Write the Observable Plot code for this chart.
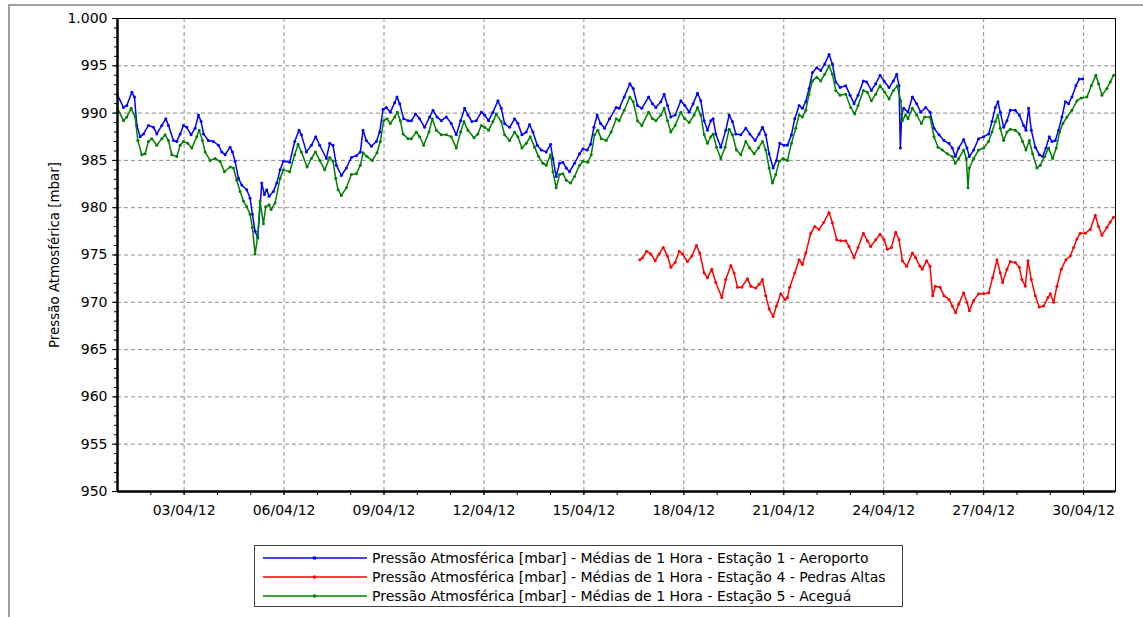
<!DOCTYPE html>
<html><head><meta charset="utf-8">
<script src="https://cdn.jsdelivr.net/npm/d3@7"></script>
<script src="https://cdn.jsdelivr.net/npm/@observablehq/plot@0.6"></script>
<style>
body{margin:0;background:#fff;font-family:"DejaVu Sans",sans-serif;}
#wrap{position:relative;width:1143px;height:617px;overflow:hidden;background:#fff;}
#frame{position:absolute;left:8px;top:4px;width:1200px;height:700px;border-left:2px solid #a0a0a0;border-top:2px solid #a0a0a0;}
#chart{position:absolute;left:0;top:0;}
#legend{position:absolute;left:254px;top:545px;width:649px;height:62px;border:1px solid #404040;box-sizing:border-box;font-size:14px;color:#000;}
#legend .row{position:absolute;left:8px;height:19px;display:flex;align-items:center;white-space:nowrap;}
#legend svg{margin-right:4px;}
</style></head>
<body>
<div id="wrap"><div id="frame"></div><div id="chart"></div><div id="legend"></div></div>
<script>
// time values: days since 01/04/2012 00:00 ; pressures in mbar
const blueDay = [0.00,0.18,0.28,0.43,0.51,0.58,0.68,0.78,0.93,1.08,1.18,1.33,1.45,1.53,1.68,1.78,1.88,1.98,2.08,2.21,2.33,2.43,2.51,2.58,2.73,2.88,3.03,3.13,3.23,3.38,3.45,3.53,3.63,3.73,3.88,3.98,4.05,4.13,4.21,4.33,4.41,4.48,4.55,4.68,4.78,4.88,4.98,
5.17,5.32,5.45,5.52,5.67,5.82,5.95,6.07,6.27,6.37,6.47,6.57,6.72,6.87,7.02,7.17,7.29,7.37,7.47,7.62,7.77,7.87,7.97,8.07,8.19,8.32,8.39,8.47,8.59,8.72,8.82,8.95,9.07,9.22,9.37,9.47,9.59,9.72,9.87,
10.02,10.17,10.30,10.42,10.52,10.64,10.77,10.92,11.02,11.14,11.27,11.42,11.52,11.62,11.77,11.92,12.02,12.14,12.27,12.37,12.47,12.60,12.72,12.87,13.00,13.07,13.17,13.27,13.37,13.47,13.57,13.72,13.87,13.97,14.10,14.20,14.30,14.40,14.50,14.62,14.77,14.97,
15.06,15.21,15.38,15.48,15.61,15.74,15.94,16.06,16.16,16.31,16.41,16.51,16.61,16.74,16.91,17.03,17.16,17.28,17.41,17.51,17.61,17.71,17.81,17.88,17.96,18.11,18.26,18.36,18.46,18.56,18.71,18.86,18.98,19.14,19.26,19.36,19.46,19.56,19.68,19.78,19.88,20.01,
20.11,20.23,20.33,20.46,20.56,20.66,20.76,20.86,20.99,21.11,21.23,21.36,21.46,21.56,21.69,21.86,21.99,22.11,22.23,22.39,22.49,22.63,22.76,22.89,23.01,23.16,23.29,23.39,23.46,23.50,23.54,23.60,23.73,23.86,23.99,24.11,24.26,24.39,24.51,24.66,24.81,24.96,25.06,
25.15,25.25,25.40,25.50,25.57,25.70,25.85,26.00,26.15,26.25,26.35,26.43,26.50,26.60,26.70,26.80,26.95,27.07,27.20,27.27,27.35,27.43,27.55,27.67,27.77,27.87,27.97,28.05,28.15,28.25,28.35,28.45,28.55,28.65,28.77,28.87,28.97];
const bluePres = [991.9,990.6,990.8,992.2,991.7,988.7,987.5,987.8,988.7,988.5,987.8,988.7,989.4,988.7,987.1,987.0,987.8,988.7,988.5,987.7,988.4,989.8,989.1,987.8,987.1,987.0,986.6,985.9,985.6,986.4,985.9,984.9,983.1,982.4,981.9,981.0,979.3,977.5,976.8,982.6,981.4,981.9,981.2,981.7,982.6,984.0,984.9,
984.8,987.0,988.2,987.7,985.9,986.6,987.5,986.6,985.2,986.8,986.6,984.5,983.4,984.2,985.3,985.5,985.9,988.2,987.1,986.5,987.0,988.0,990.4,990.6,990.1,991.1,991.7,991.0,989.4,989.2,989.2,989.9,989.4,988.5,989.6,990.3,989.6,989.2,989.6,
988.9,987.7,989.2,990.5,989.8,989.1,989.2,990.1,989.8,989.2,990.1,991.3,990.5,988.9,988.5,989.4,988.9,987.7,988.0,988.8,988.0,986.6,986.1,985.9,986.7,985.2,983.3,984.7,984.8,984.2,983.8,984.7,985.7,986.2,986.1,986.7,988.5,989.8,988.9,988.4,989.4,990.6,
990.5,991.7,993.1,992.6,990.8,990.5,991.7,991.0,990.6,991.2,992.0,990.8,989.6,989.8,991.3,990.8,990.1,991.0,992.1,991.3,989.2,988.2,989.2,989.4,987.8,986.4,988.2,989.8,989.1,987.8,987.7,988.4,987.8,987.1,987.8,988.5,987.7,985.7,984.2,985.0,986.8,986.6,
986.6,987.7,989.4,990.8,990.5,991.2,992.6,994.3,994.8,994.5,995.2,996.2,995.2,993.3,992.7,992.9,991.9,991.0,991.9,993.4,993.3,992.4,993.1,994.0,993.4,992.7,993.4,994.1,992.9,986.3,989.9,990.5,990.1,991.7,991.0,990.1,990.6,990.1,988.4,987.7,987.1,986.8,986.3,
985.4,986.3,987.2,986.3,985.4,986.1,987.3,987.5,987.8,989.1,990.6,991.2,990.1,988.5,989.2,990.3,990.3,989.8,988.7,988.2,990.5,988.2,986.4,985.6,985.4,986.3,987.5,987.0,987.1,988.2,989.6,991.2,991.0,991.7,992.9,993.6,993.6];

const redDay = [15.68,15.76,15.88,16.01,16.14,16.26,16.38,16.51,16.61,16.74,16.86,16.96,17.11,17.24,17.38,17.48,17.61,17.71,17.84,17.96,18.14,18.26,18.41,18.51,18.61,18.74,18.91,19.01,19.16,19.26,19.36,19.46,19.56,19.68,19.78,19.91,20.04,
20.11,20.18,20.33,20.46,20.56,20.66,20.81,20.93,21.06,21.19,21.36,21.46,21.59,21.71,21.86,21.96,22.11,22.23,22.39,22.51,22.61,22.76,22.89,23.01,23.11,23.23,23.36,23.46,23.56,23.69,23.86,23.96,24.09,24.16,24.29,24.39,24.47,24.55,24.69,24.81,24.96,25.06,25.16,
25.25,25.40,25.50,25.57,25.70,25.85,26.00,26.15,26.27,26.40,26.50,26.57,26.70,26.80,26.95,27.07,27.15,27.25,27.33,27.43,27.55,27.67,27.80,27.93,28.00,28.10,28.20,28.33,28.47,28.60,28.70,28.80,28.90,29.05,29.20,29.35,29.45,29.55,29.70,29.80,29.90];
const redPres = [974.5,974.7,975.4,975.1,974.4,975.1,975.8,974.9,973.7,974.2,975.4,975.1,974.3,974.9,976.0,975.2,973.1,972.6,973.5,972.1,970.5,972.4,973.9,973.1,971.6,971.6,972.5,971.7,971.5,971.9,972.4,970.7,969.3,968.5,969.6,970.9,970.3,
970.5,971.6,973.1,974.5,974.0,975.2,977.3,978.0,977.7,978.4,979.5,978.4,976.6,976.5,976.5,975.9,974.7,975.8,977.3,976.5,975.9,976.6,977.2,976.6,975.6,975.8,977.4,976.6,974.4,973.8,975.2,974.7,973.8,973.5,974.4,973.8,970.7,971.7,971.6,970.7,970.3,969.6,968.9,
969.8,971.0,970.0,969.1,970.2,970.9,970.9,971.0,972.6,974.5,973.1,972.1,973.5,974.3,974.2,973.7,972.4,971.7,974.4,972.4,970.7,969.5,969.6,970.5,970.9,970.0,971.7,973.5,974.5,974.9,975.8,976.7,977.3,977.3,977.7,979.2,978.0,977.1,977.9,978.5,979.0];

const greenDay = [0.00,0.18,0.28,0.41,0.53,0.61,0.73,0.83,0.93,1.03,1.18,1.33,1.43,1.53,1.63,1.78,1.88,1.98,2.11,2.23,2.38,2.45,2.55,2.63,2.78,2.93,3.08,3.21,3.38,3.48,3.58,3.68,3.78,3.88,3.98,4.05,4.13,4.21,4.28,4.38,4.45,4.55,4.61,4.73,4.88,4.98,
5.17,5.32,5.42,5.52,5.69,5.82,5.94,6.07,6.22,6.37,6.47,6.55,6.62,6.72,6.87,7.02,7.17,7.29,7.37,7.49,7.65,7.79,7.89,7.99,8.09,8.19,8.32,8.40,8.49,8.57,8.72,8.82,8.97,9.07,9.19,9.35,9.45,9.57,9.72,9.87,
10.02,10.17,10.30,10.40,10.52,10.70,10.82,10.92,11.02,11.14,11.27,11.37,11.52,11.62,11.77,11.92,12.02,12.14,12.27,12.39,12.52,12.64,12.77,12.87,13.00,13.07,13.17,13.27,13.37,13.47,13.60,13.72,13.87,13.97,14.12,14.22,14.32,14.42,14.52,14.67,14.82,14.97,
15.06,15.21,15.38,15.48,15.61,15.74,15.94,16.06,16.16,16.31,16.41,16.51,16.61,16.74,16.91,17.03,17.16,17.31,17.41,17.51,17.61,17.71,17.81,17.88,17.98,18.11,18.24,18.36,18.46,18.58,18.71,18.86,18.98,19.11,19.24,19.36,19.46,19.56,19.66,19.76,19.86,19.98,
20.11,20.23,20.36,20.46,20.56,20.66,20.76,20.86,20.99,21.11,21.23,21.36,21.46,21.56,21.69,21.86,22.01,22.13,22.23,22.39,22.51,22.63,22.76,22.89,23.03,23.16,23.29,23.41,23.51,23.56,23.66,23.73,23.86,23.99,24.13,24.23,24.39,24.51,24.63,24.76,24.91,25.06,
25.15,25.25,25.40,25.48,25.53,25.57,25.70,25.85,26.00,26.15,26.25,26.35,26.43,26.50,26.60,26.70,26.80,26.95,27.07,27.17,27.27,27.37,27.47,27.60,27.70,27.83,27.95,28.07,28.18,28.28,28.38,28.50,28.65,28.80,28.93,29.10,29.23,29.37,29.45,29.55,29.70,29.80,29.90];
const greenPres = [990.5,989.2,989.6,990.5,989.6,987.1,985.6,985.7,987.0,987.3,986.6,987.3,987.7,987.1,985.6,985.4,986.6,987.0,986.8,986.3,987.5,988.2,987.1,985.9,985.0,985.2,984.9,983.8,984.3,984.2,982.9,981.7,980.7,980.1,979.3,977.9,975.1,977.0,980.7,978.3,980.1,980.3,979.8,980.5,983.1,984.0,
983.8,985.6,986.7,985.9,984.3,985.2,985.9,985.0,984.0,985.3,984.9,983.1,981.9,981.3,982.1,983.5,983.6,984.5,985.8,985.4,985.0,985.8,987.0,989.2,989.4,988.9,989.6,990.1,989.2,987.8,987.3,987.3,988.0,987.5,986.6,988.0,989.4,988.2,987.7,987.7,
987.5,986.3,988.0,989.1,988.2,987.4,987.8,988.7,988.5,988.2,989.1,989.9,989.1,987.7,987.1,988.0,987.5,986.3,986.8,987.5,986.4,985.4,984.7,984.5,985.6,983.8,982.1,983.5,983.6,982.9,982.6,983.3,984.5,984.9,984.8,985.6,987.7,988.2,987.3,987.1,988.0,989.4,
989.2,990.3,991.7,991.2,989.2,988.7,990.1,989.4,989.2,989.8,990.5,989.2,988.0,988.7,990.1,989.4,989.0,989.8,990.6,989.8,987.7,986.8,987.5,987.8,986.4,985.2,986.4,988.3,987.7,986.1,985.6,987.0,986.3,985.7,986.3,987.0,986.1,984.2,982.6,983.5,984.9,985.2,
985.0,986.8,988.4,989.8,989.6,990.3,992.0,993.4,993.8,993.4,994.1,995.0,994.1,992.4,991.9,992.0,990.6,989.9,990.8,992.4,992.2,991.3,992.0,992.9,992.2,991.5,992.4,992.9,991.3,989.2,989.8,989.4,990.5,989.8,988.9,989.6,989.6,987.5,986.4,986.1,985.7,985.4,
984.7,985.2,986.1,985.2,982.1,984.2,985.2,986.1,986.3,987.0,988.0,989.1,989.8,988.4,987.1,988.0,988.3,988.2,987.8,987.0,986.1,987.1,985.7,984.2,984.5,985.4,986.3,985.2,986.3,988.0,988.9,989.6,990.3,991.3,991.6,991.7,992.9,994.0,993.1,991.9,992.6,993.3,994.0];

const seriesNames = [
  "Pressão Atmosférica [mbar] - Médias de 1 Hora - Estação 1 - Aeroporto",
  "Pressão Atmosférica [mbar] - Médias de 1 Hora - Estação 4 - Pedras Altas",
  "Pressão Atmosférica [mbar] - Médias de 1 Hora - Estação 5 - Aceguá"
];
const seriesColors = ["#0000ff", "#ff0000", "#008000"];
const yLabel = "Pressão Atmosférica [mbar]";
const yTicks = [950,955,960,965,970,975,980,985,990,995,1000];
const xTickDays = [2,5,8,11,14,17,20,23,26,29]; // 03/04/12 ... 30/04/12

const start = Date.UTC(2012,3,1);
const toDate = d => new Date(start + d*864e5);
const mk = (days, vals) => days.map((d,i) => ({t: toDate(d), v: vals[i]}));
const blue = mk(blueDay, bluePres), red = mk(redDay, redPres), green = mk(greenDay, greenPres);
const xTicks = xTickDays.map(toDate);
const dayTicks = d3.range(1, 30).map(toDate);
const minorY = d3.range(950, 1001, 1);
const ptBR = d3.formatLocale({decimal:",", thousands:".", grouping:[3], currency:["R$",""]});
const fmtY = ptBR.format(",");
const fmtX = d3.utcFormat("%d/%m/%y");
const grid = {stroke:"#8c8c8c", strokeOpacity:1, strokeWidth:1, strokeDasharray:"4,3"};

const chart = Plot.plot({
  width: 1143, height: 530,
  marginLeft: 117, marginRight: 28, marginTop: 18, marginBottom: 39,
  x: {type:"utc", domain:[toDate(0), toDate(29.958)], label:null},
  y: {domain:[950,1000], label:null},
  style: {fontFamily:"'DejaVu Sans', sans-serif", fontSize:"14px", color:"#000", background:"transparent"},
  marks: [
    Plot.gridX(xTicks, grid),
    Plot.gridY(yTicks.slice(1,-1), grid),
    Plot.line(blue, {x:"t", y:"v", stroke:seriesColors[0], strokeWidth:1.5}),
    Plot.dot(blue, {x:"t", y:"v", r:1.5, fill:seriesColors[0], stroke:null}),
    Plot.line(red, {x:"t", y:"v", stroke:seriesColors[1], strokeWidth:1.5}),
    Plot.dot(red, {x:"t", y:"v", r:1.5, fill:seriesColors[1], stroke:null}),
    Plot.line(green, {x:"t", y:"v", stroke:seriesColors[2], strokeWidth:1.5}),
    Plot.dot(green, {x:"t", y:"v", r:1.5, fill:seriesColors[2], stroke:null}),
    Plot.frame({stroke:"#000", strokeWidth:1}),
    Plot.ruleX([toDate(0)], {stroke:"#000", strokeWidth:2.5}),
    Plot.ruleY([950], {stroke:"#000", strokeWidth:2.5}),
    Plot.axisY(minorY, {tickSize:3, tickFormat:() => "", stroke:"#000"}),
    Plot.axisY(yTicks, {tickSize:5, tickPadding:5, tickFormat:fmtY, fontSize:14, stroke:"#000", fill:"#000"}),
    Plot.axisX(dayTicks, {tickSize:4, tickFormat:() => "", stroke:"#000"}),
    Plot.axisX(xTicks, {tickSize:4, tickPadding:10, tickFormat:fmtX, fontSize:14, fill:"#000", stroke:"#000"}),
    Plot.text([yLabel], {frameAnchor:"left", dx:-63, rotate:-90, textAnchor:"middle", fontSize:13.4, fill:"#000"})
  ]
});
document.getElementById("chart").append(chart);

// legend
const leg = document.getElementById("legend");
const rowTops = [2, 21, 40];
seriesNames.forEach((name, i) => {
  const row = document.createElement("div");
  row.className = "row";
  row.style.top = rowTops[i] + "px";
  row.innerHTML = `<svg width="105" height="6"><line x1="0" x2="104" y1="3" y2="3" stroke="${seriesColors[i]}" stroke-width="1.5"/><rect x="50" y="1.5" width="3" height="3" fill="${seriesColors[i]}"/></svg><span>${name}</span>`;
  leg.append(row);
});
</script>
</body></html>
